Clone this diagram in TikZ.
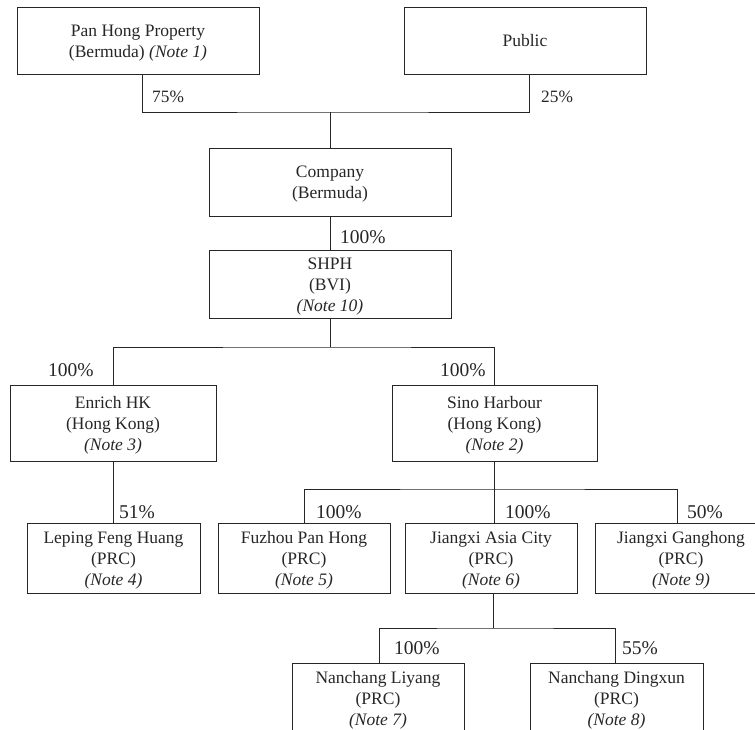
\documentclass[tikz,border=0pt]{standalone}
\usepackage{fontspec}
\setmainfont{Liberation Serif}
\newcommand\topstrutx{\rule{0pt}{16.5pt}}
\begin{document}
\begin{tikzpicture}[x=1pt,y=-1pt,
  box/.style={draw=black!85, line width=0.8pt, inner sep=0pt, align=center,
    text=black!85, font=\fontsize{17.5}{21}\selectfont},
  pcttop/.style={anchor=west, inner sep=0pt, text=black!85, font=\fontsize{17.3}{20}\selectfont},
  pct/.style={anchor=west, inner sep=0pt, text=black!85, font=\fontsize{19.5}{22}\selectfont},
  link/.style={draw=black!85, line width=0.8pt}]
\useasboundingbox (0,0) rectangle (755,730);

% boxes
\node[box, minimum width=242pt, minimum height=67pt] (pan) at (138,40.5) {\topstrutx Pan Hong Property\\(Bermuda) \textit{(Note 1)}};
\node[box, minimum width=242pt, minimum height=67pt] (pub) at (525,40.5) {Public};
\node[box, minimum width=242pt, minimum height=68pt] (comp) at (330,182) {\topstrutx Company\\(Bermuda)};
\node[box, minimum width=242pt, minimum height=68pt] (shph) at (330,284) {\topstrutx SHPH\\(BVI)\\\textit{(Note 10)}};
\node[box, minimum width=206pt, minimum height=76pt] (enr) at (113,423) {\topstrutx Enrich HK\\(Hong Kong)\\\textit{(Note 3)}};
\node[box, minimum width=205pt, minimum height=76pt] (sino) at (494.5,423) {\topstrutx Sino Harbour\\(Hong Kong)\\\textit{(Note 2)}};
\node[box, minimum width=173pt, minimum height=70pt] (lep) at (113.5,558) {\topstrutx Leping Feng Huang\\(PRC)\\\textit{(Note 4)}};
\node[box, minimum width=172pt, minimum height=70pt] (fuz) at (304,558) {\topstrutx Fuzhou Pan Hong\\(PRC)\\\textit{(Note 5)}};
\node[box, minimum width=172pt, minimum height=70pt] (jac) at (491,558) {\topstrutx Jiangxi Asia City\\(PRC)\\\textit{(Note 6)}};
\node[box, minimum width=172pt, minimum height=70pt] (jgh) at (681,558) {\topstrutx Jiangxi Ganghong\\(PRC)\\\textit{(Note 9)}};
\node[box, minimum width=172pt, minimum height=70pt] (nly) at (378,698) {\topstrutx Nanchang Liyang\\(PRC)\\\textit{(Note 7)}};
\node[box, minimum width=173pt, minimum height=70pt] (ndx) at (616.5,698) {\topstrutx Nanchang Dingxun\\(PRC)\\\textit{(Note 8)}};

% junctions
\coordinate (j1) at (330,112);
\coordinate (j2) at (330,347);
\coordinate (j3) at (494,489);
\coordinate (j4) at (493,628);

% connectors
\draw[link] ([xshift=4pt]pan.south) |- (j1) -| ([xshift=4pt]pub.south);
\draw[link] (j1) -- (comp.north);
\draw[link] (comp.south) -- (shph.north);
\draw[link] (shph.south) -- (j2);
\draw[link] (enr.north) |- (j2) -| (j3 |- sino.north);
\draw[link] (enr.south) -- (enr.south |- lep.north);
\draw[link] (j3 |- sino.south) -- (j3);
\draw[link] (fuz.north) |- (j3) -| ([xshift=-4pt]jgh.north);
\draw[link] (j3) -- (j3 |- jac.north);
\draw[link] (j4 |- jac.south) -- (j4);
\draw[link] ([xshift=1pt]nly.north) |- (j4) -| ([xshift=-1.5pt]ndx.north);

% percentages
\node[pcttop] (p75) at (152,97) {75\%};
\node[pcttop] (p25) at (541,97) {25\%};
\node[pct] (p100a) at (340,237) {100\%};
\node[pct] (p100b) at (48,370) {100\%};
\node[pct] (p100c) at (440,370) {100\%};
\node[pct] (p51) at (119,512) {51\%};
\node[pct] (p100d) at (316,512) {100\%};
\node[pct] (p100e) at (505,512) {100\%};
\node[pct] (p50) at (687,512) {50\%};
\node[pct] (p100f) at (394,648) {100\%};
\node[pct] (p55) at (622,648) {55\%};
\end{tikzpicture}
\end{document}
